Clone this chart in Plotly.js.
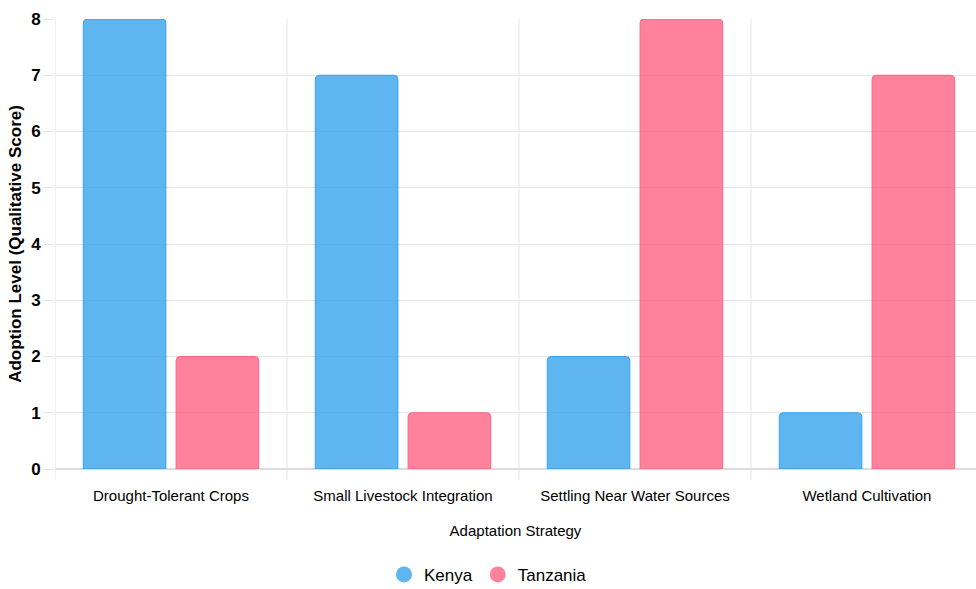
<!DOCTYPE html>
<html><head><meta charset="utf-8">
<script src="https://cdn.plot.ly/plotly-3.0.1.min.js"></script>
<style>html,body{margin:0;padding:0;background:#fff}#chart{width:976px;height:589px}</style>
</head><body><div id="chart"></div>
<script>
const categories = ["Drought-Tolerant Crops", "Small Livestock Integration", "Settling Near Water Sources", "Wetland Cultivation"];
const kenya = [8, 7, 2, 1];
const tanzania = [2, 1, 8, 7];
const seriesNames = ["Kenya", "Tanzania"];
const fills = ["rgba(54,162,235,0.8)", "rgba(255,99,132,0.8)"];
const lines = ["rgb(54,162,235)", "rgb(255,99,132)"];
const font = "Liberation Sans, Arial, sans-serif";

const data = [
  {type:"bar", x:categories, y:kenya, name:seriesNames[0], showlegend:false,
   marker:{color:fills[0], line:{color:lines[0], width:1}}, hoverinfo:"y"},
  {type:"bar", x:categories, y:tanzania, name:seriesNames[1], showlegend:false,
   marker:{color:fills[1], line:{color:lines[1], width:1}}, hoverinfo:"y"},
  {type:"scatter", mode:"markers", x:[null], y:[null], name:seriesNames[0],
   marker:{symbol:"circle", size:18, color:fills[0]}},
  {type:"scatter", mode:"markers", x:[null], y:[null], name:seriesNames[1],
   marker:{symbol:"circle", size:18, color:fills[1]}}
];

const layout = {
  width:976, height:589,
  margin:{l:55, r:0, t:19, b:120},
  paper_bgcolor:"#fff", plot_bgcolor:"#fff",
  barmode:"group", bargap:0.2, bargroupgap:0.11, barcornerradius:4,
  font:{family:font, color:"#000"},
  xaxis:{
    type:"category", range:[-0.5, 3.47],
    showgrid:false, zeroline:false,
    ticks:"outside", ticklen:13, tickcolor:"rgba(0,0,0,0)",
    tickfont:{size:15, color:"#000"},
    title:{text:"Adaptation Strategy", font:{size:15, color:"#000"}, standoff:22},
    showline:false
  },
  yaxis:{
    range:[0, 8], dtick:1, tick0:0,
    showgrid:true, gridcolor:"#e4e4e4", gridwidth:1,
    zeroline:true, zerolinecolor:"#dcdcdc", zerolinewidth:1.5,
    ticks:"outside", ticklen:10, tickcolor:"#e4e4e4",
    tickfont:{size:17, color:"#000", weight:"bold"},
    title:{text:"Adoption Level (Qualitative Score)", font:{size:17, color:"#000", weight:"bold"}, standoff:5}
  },
  shapes: [0,1,2,3].map(i => ({
    type:"line", xref:"x", yref:"paper", x0:i-0.5, x1:i-0.5, y0:-0.025, y1:1,
    line:{color:"#e4e4e4", width:1}, layer:"below"
  })),
  legend:{orientation:"h", xref:"container", x:0.5, xanchor:"center", yref:"container", y:0.024, yanchor:"middle",
    font:{size:17, color:"#000"}, itemwidth:30},
  showlegend:true
};

Plotly.newPlot("chart", data, layout, {displayModeBar:false, staticPlot:true});
</script></body></html>
